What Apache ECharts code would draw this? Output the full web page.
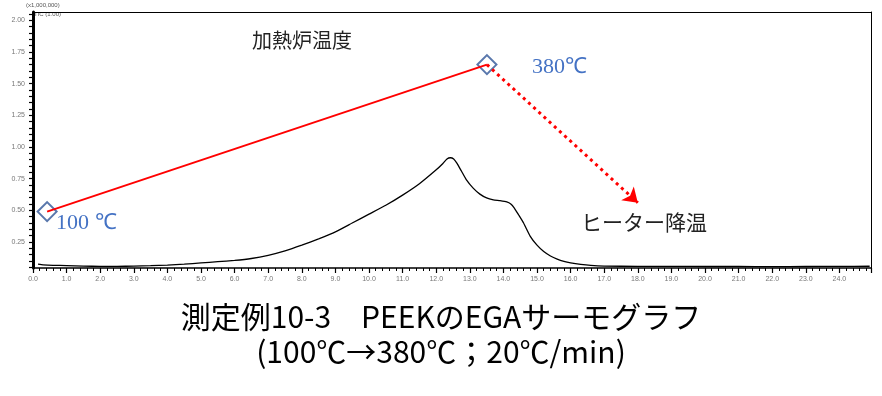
<!DOCTYPE html>
<html><head><meta charset="utf-8">
<script src="https://cdn.jsdelivr.net/npm/echarts@6/dist/echarts.min.js"></script>
<style>html,body{margin:0;padding:0;background:#fff}#c{width:882px;height:396px}</style>
</head><body><div id="c"></div>
<script>
// Retention time (min) and TIC intensity (x1,000,000)
const ticTime = [0.15,0.3,0.6,1.0,1.5,2.0,2.5,3.0,3.5,4.0,4.5,5.0,5.5,6.0,6.5,7.0,7.5,8.0,8.5,9.0,9.5,10.0,10.5,11.0,11.5,12.0,12.2,12.32,12.42,12.52,12.62,12.75,12.9,13.1,13.3,13.5,13.7,13.9,14.1,14.22,14.32,14.45,14.6,14.8,15.0,15.2,15.4,15.6,15.8,16.0,16.3,16.6,17.0,18.0,19.0,20.0,21.0,22.0,23.0,24.0,24.9];
const ticValue = [0.075,0.07,0.066,0.064,0.06,0.058,0.058,0.06,0.063,0.068,0.075,0.085,0.095,0.105,0.12,0.145,0.18,0.225,0.275,0.33,0.40,0.47,0.54,0.62,0.71,0.82,0.87,0.905,0.915,0.905,0.87,0.81,0.74,0.675,0.628,0.598,0.583,0.576,0.566,0.55,0.52,0.465,0.40,0.295,0.225,0.175,0.14,0.115,0.097,0.085,0.073,0.065,0.06,0.058,0.058,0.057,0.057,0.056,0.057,0.058,0.059];
// Furnace temperature program annotation (start, top, end of cooling arrow)
const heatStart = [0.42, 0.49];
const heatTop = [13.51, 1.65];
const coolEnd = [18.0, 0.56];
const yTicks = [0.25,0.50,0.75,1.00,1.25,1.50,1.75,2.00];
const yAllTicks = [];
for (let v = 0.05; v < 2.06; v += 0.05) yAllTicks.push(Math.round(v*100)/100);

const chart = echarts.init(document.getElementById('c'), null, {renderer:'canvas'});
const X0 = 0, X1 = 24.94, Y0 = 0.045, Y1 = 2.065;
chart.setOption({
  animation:false,
  grid:{left:33, right:11, top:12, bottom:128, show:false},
  xAxis:[
    {type:'value', min:X0, max:X1, interval:1, position:'bottom',
      axisLine:{show:true, onZero:false, lineStyle:{color:'#000', width:1.5}},
      axisTick:{show:true, length:5, lineStyle:{color:'#000', width:1.2}},
      minorTick:{show:true, splitNumber:5, length:3, lineStyle:{color:'#000', width:1}},
      splitLine:{show:false},
      axisLabel:{margin:8, fontSize:7, color:'#777', formatter:v=>v.toFixed(1), showMaxLabel:false}},
    {type:'value', min:X0, max:X1, position:'top',
      axisLine:{show:true, onZero:false, lineStyle:{color:'#000', width:1}},
      axisTick:{show:false}, splitLine:{show:false}, axisLabel:{show:false}}
  ],
  yAxis:[
    {type:'value', min:Y0, max:Y1, position:'left',
      axisLine:{show:true, onZero:false, lineStyle:{color:'#000', width:3}},
      axisTick:{show:true, length:4, customValues:yAllTicks, lineStyle:{color:'#000', width:1.2}},
      splitLine:{show:false},
      axisLabel:{margin:8, fontSize:7, color:'#777', customValues:yTicks, formatter:v=>v.toFixed(2)}},
    {type:'value', min:Y0, max:Y1, position:'right',
      axisLine:{show:true, onZero:false, lineStyle:{color:'#000', width:1}},
      axisTick:{show:false}, splitLine:{show:false}, axisLabel:{show:false}}
  ],
  series:[
    {type:'line', data:ticTime.map((t,i)=>[t,ticValue[i]]), showSymbol:false, smooth:0.15,
      lineStyle:{color:'#000', width:1.3}},
    {type:'line', data:[heatStart, heatTop], showSymbol:false, lineStyle:{color:'#ff0000', width:2},
      markLine:{silent:true, symbol:['none','arrow'], symbolSize:14, label:{show:false},
        lineStyle:{color:'#ff0000', width:3, type:[3,4], opacity:1},
        data:[[{coord:heatTop},{coord:coolEnd}]]}},
    {type:'scatter', data:[heatStart, heatTop], symbol:'diamond', symbolSize:[19,19],
      itemStyle:{color:'rgba(0,0,0,0)', borderColor:'#2F5597', borderWidth:2}}
  ],
  graphic:[
    {type:'text', left:26, top:2, style:{text:'(x1,000,000)', fontSize:6, fill:'#555', fontFamily:'Liberation Sans'}},
    {type:'text', left:34, top:11, style:{text:'TIC (1.00)', fontSize:6, fill:'#555', fontFamily:'Liberation Sans'}},
    {type:'text', left:252, top:30, style:{text:'加熱炉温度', fontSize:20, fill:'#222', fontFamily:'Noto Sans CJK JP'}},
    {type:'text', left:532, top:56, style:{text:'380℃', fontSize:22, fill:'#4472C4', fontFamily:'Liberation Serif'}},
    {type:'text', left:56, top:212, style:{text:'100 ℃', fontSize:22, fill:'#4472C4', fontFamily:'Liberation Serif'}},
    {type:'text', left:581, top:212, style:{text:'ヒーター降温', fontSize:21, fill:'#222', fontFamily:'Noto Sans CJK JP'}},
    {type:'text', left:'center', top:302, style:{text:'測定例10-3　PEEKのEGAサーモグラフ', fontSize:30, fill:'#000', fontFamily:'Noto Sans CJK JP', align:'center'}},
    {type:'text', left:'center', top:337, style:{text:'(100℃→380℃；20℃/min)', fontSize:30, fill:'#000', fontFamily:'Noto Sans CJK JP', align:'center'}}
  ]
});
</script></body></html>
